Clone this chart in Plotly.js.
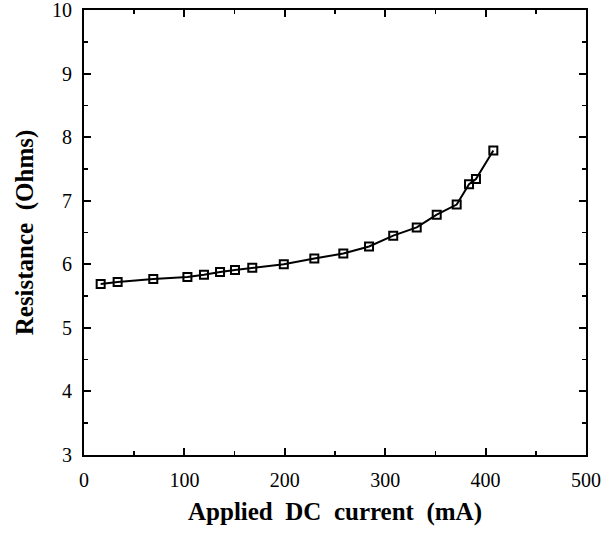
<!DOCTYPE html>
<html>
<head>
<meta charset="utf-8">
<script src="https://cdn.plot.ly/plotly-3.0.1.min.js"></script>
<style>html,body{margin:0;padding:0;background:#fff;}#chart{width:610px;height:535px;}</style>
</head>
<body>
<div id="chart"></div>
<script>
const currentMA = [16.6, 33.5, 69, 103, 119.5, 135.5, 150.4, 167.6, 199, 229.4, 258.3, 283.9, 308, 331.4, 351.3, 371.2, 383.5, 390.4, 407.7];
const resistanceOhms = [5.69, 5.72, 5.77, 5.80, 5.835, 5.88, 5.91, 5.945, 6.00, 6.09, 6.17, 6.28, 6.45, 6.58, 6.78, 6.94, 7.26, 7.34, 7.79];
const xTicks = [0, 100, 200, 300, 400, 500];
const yTicks = [3, 4, 5, 6, 7, 8, 9, 10];

const trace = {
  x: currentMA,
  y: resistanceOhms,
  mode: 'lines+markers',
  type: 'scatter',
  line: {color: '#000', width: 2},
  marker: {symbol: 'square-open', size: 8, color: '#000', line: {width: 2, color: '#000'}},
  showlegend: false,
  hoverinfo: 'skip'
};

const fontFam = '"Liberation Serif", "Times New Roman", serif';
const layout = {
  width: 610, height: 535,
  margin: {l: 84, r: 24, t: 10, b: 80},
  paper_bgcolor: '#fff', plot_bgcolor: '#fff',
  font: {family: fontFam, color: '#000', size: 20},
  xaxis: {
    range: [0, 500], tickvals: xTicks, ticktext: xTicks.map(String),
    ticks: 'inside', ticklen: 7, tickwidth: 2, tickcolor: '#000',
    minor: {dtick: 50, ticks: 'inside', ticklen: 4, tickwidth: 1.5, tickcolor: '#000'},
    showline: true, linewidth: 2, linecolor: '#000', mirror: 'allticks',
    showgrid: false, zeroline: false,
    ticklabelstandoff: 6, ticklabeloverflow: 'allow',
    tickfont: {family: fontFam, size: 20, color: '#000'},
    title: {text: '<b>Applied  DC  current  (mA)</b>', font: {family: fontFam, size: 25, color: '#000'}, standoff: 12},
    automargin: false
  },
  yaxis: {
    range: [3, 10], tickvals: yTicks, ticktext: yTicks.map(String),
    ticks: 'inside', ticklen: 7, tickwidth: 2, tickcolor: '#000',
    minor: {dtick: 0.5, ticks: 'inside', ticklen: 4, tickwidth: 1.5, tickcolor: '#000'},
    showline: true, linewidth: 2, linecolor: '#000', mirror: 'allticks',
    showgrid: false, zeroline: false,
    ticklabelstandoff: 6, ticklabeloverflow: 'allow',
    tickfont: {family: fontFam, size: 20, color: '#000'},
    title: {text: '<b>Resistance  (Ohms)</b>', font: {family: fontFam, size: 25, color: '#000'}, standoff: 11},
    automargin: false
  }
};

Plotly.newPlot('chart', [trace], layout, {staticPlot: true, displayModeBar: false});
</script>
</body>
</html>
